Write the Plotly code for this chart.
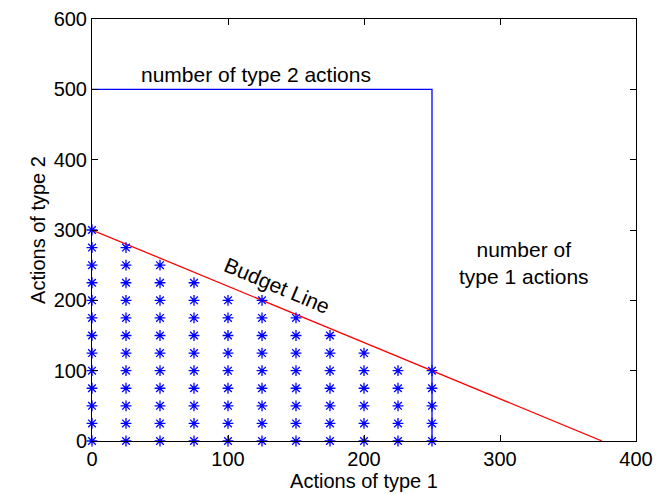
import plotly.graph_objects as go

# Data
grid_step = 25
x_levels = [0, 25, 50, 75, 100, 125, 150, 175, 200, 225, 250]
y_tops = [300, 275, 250, 225, 200, 200, 175, 150, 125, 100, 100]  # highest feasible point per column
budget_x = [0, 375]
budget_y = [300, 0]
limit_x = [0, 250, 250]
limit_y = [500, 500, 0]
x_ticks = [0, 100, 200, 300, 400]
y_ticks = [0, 100, 200, 300, 400, 500, 600]

px, py = [], []
for xv, top in zip(x_levels, y_tops):
    yv = 0
    while yv <= top:
        px.append(xv)
        py.append(yv)
        yv += grid_step

font = "Liberation Sans, Arial, sans-serif"
fs = 20
fa = 21
fig = go.Figure()
fig.add_trace(go.Scatter(x=limit_x, y=limit_y, mode="lines",
                         line=dict(color="#0000FF", width=1.3), showlegend=False))
fig.add_trace(go.Scatter(x=budget_x, y=budget_y, mode="lines",
                         line=dict(color="#FF0000", width=1.3), showlegend=False))
fig.add_trace(go.Scatter(x=px, y=py, mode="markers",
                         marker=dict(symbol="asterisk-open", size=9, color="#0000FF",
                                     line=dict(color="#0000FF", width=1.3)),
                         showlegend=False, cliponaxis=False))

fig.add_annotation(x=120.5, y=521, text="number of type 2 actions", showarrow=False,
                   font=dict(family=font, size=fa, color="black"))
fig.add_annotation(x=318, y=253, text="number of<br>type 1 actions", showarrow=False,
                   font=dict(family=font, size=fa, color="black"))
fig.add_annotation(x=136, y=221, text="Budget Line", showarrow=False, textangle=23,
                   font=dict(family=font, size=fa, color="black"))

axis_common = dict(showgrid=False, zeroline=False, showline=True, linecolor="black",
                   linewidth=1, mirror="allticks", ticks="inside", ticklen=6,
                   tickcolor="black", automargin=False, ticklabeloverflow="allow",
                   tickfont=dict(family=font, size=fs, color="black"))
fig.update_xaxes(range=[0, 400], tickvals=x_ticks,
                 title=dict(text="Actions of type 1", font=dict(family=font, size=fs, color="black"),
                            standoff=0),
                 **axis_common)
fig.update_yaxes(range=[0, 600], tickvals=y_ticks,
                 title=dict(text="Actions of type 2", font=dict(family=font, size=fs, color="black"),
                            standoff=2),
                 **axis_common)
fig.update_layout(width=659, height=486, plot_bgcolor="white", paper_bgcolor="white",
                  margin=dict(l=84, r=31, t=11, b=53))
fig.write_html("out.html")
